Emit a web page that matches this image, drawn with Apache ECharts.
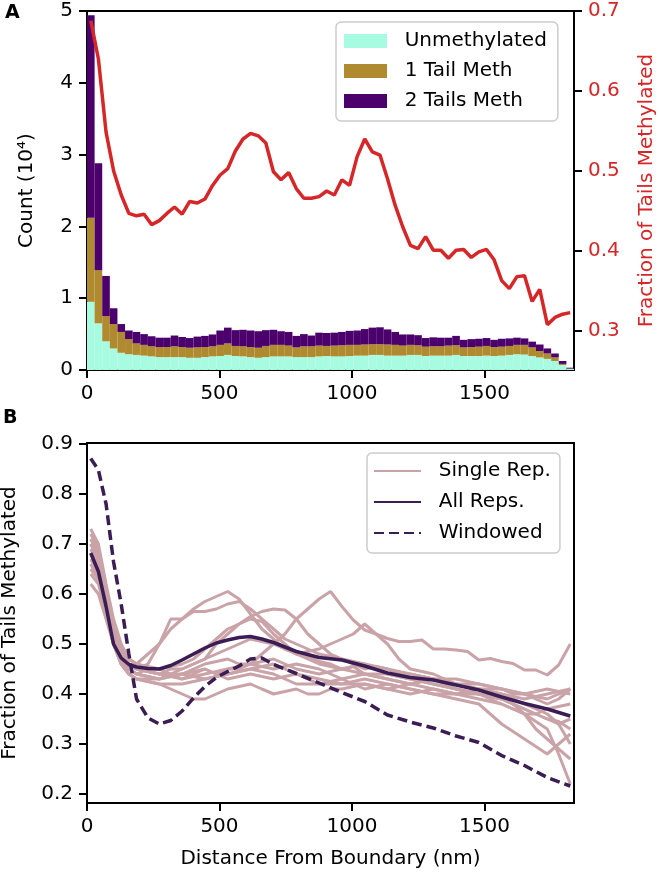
<!DOCTYPE html>
<html>
<head>
<meta charset="utf-8">
<script src="https://cdn.jsdelivr.net/npm/echarts@6/dist/echarts.min.js"></script>
<style>
html, body { margin: 0; padding: 0; background: #fff; }
#chart { width: 660px; height: 876px; }
</style>
</head>
<body>
<div id="chart"></div>
<script>
// histogram bins (nm, bin centres)
const binCenters = [14, 43, 72, 100, 129, 158, 187, 215, 244, 273, 302, 330, 359, 388, 416, 445,
	474, 503, 531, 560, 589, 617, 646, 675, 704, 732, 761, 790, 818, 847, 876, 904,
	933, 962, 991, 1020, 1048, 1077, 1106, 1134, 1163, 1192, 1221, 1249, 1278, 1307, 1335, 1364,
	1393, 1422, 1450, 1479, 1508, 1536, 1565, 1594, 1623, 1651, 1680, 1709, 1738, 1766, 1795, 1824];

// counts (10^4)
const unmethylated = [0.95, 0.65, 0.40, 0.30, 0.24, 0.22, 0.21, 0.20, 0.19, 0.18,
	0.18, 0.18, 0.18, 0.17, 0.17, 0.18, 0.19, 0.195, 0.21, 0.195,
	0.19, 0.18, 0.17, 0.18, 0.19, 0.19, 0.19, 0.18, 0.18, 0.18,
	0.19, 0.195, 0.19, 0.19, 0.195, 0.20, 0.20, 0.21, 0.21, 0.20,
	0.20, 0.20, 0.21, 0.21, 0.195, 0.20, 0.20, 0.20, 0.21, 0.195,
	0.195, 0.195, 0.20, 0.195, 0.20, 0.21, 0.22, 0.215, 0.195, 0.175,
	0.155, 0.125, 0.07, 0.014];
const oneTail = [1.17, 0.74, 0.35, 0.34, 0.29, 0.21, 0.16, 0.15, 0.14, 0.14,
	0.14, 0.15, 0.14, 0.14, 0.145, 0.14, 0.14, 0.155, 0.16, 0.14,
	0.14, 0.14, 0.14, 0.155, 0.16, 0.16, 0.15, 0.135, 0.15, 0.15,
	0.15, 0.14, 0.15, 0.155, 0.155, 0.15, 0.155, 0.15, 0.15, 0.155,
	0.15, 0.14, 0.14, 0.135, 0.13, 0.13, 0.13, 0.14, 0.135, 0.12,
	0.125, 0.13, 0.135, 0.125, 0.125, 0.125, 0.13, 0.135, 0.12, 0.09,
	0.075, 0.05, 0.015, 0.005];
const twoTails = [2.82, 1.49, 0.56, 0.22, 0.11, 0.12, 0.16, 0.15, 0.14, 0.13,
	0.13, 0.15, 0.14, 0.135, 0.15, 0.155, 0.165, 0.20, 0.22, 0.22,
	0.23, 0.23, 0.23, 0.22, 0.21, 0.19, 0.19, 0.16, 0.17, 0.15,
	0.18, 0.18, 0.18, 0.185, 0.195, 0.20, 0.215, 0.23, 0.235, 0.21,
	0.18, 0.155, 0.145, 0.14, 0.12, 0.125, 0.12, 0.11, 0.13, 0.105,
	0.11, 0.11, 0.11, 0.10, 0.11, 0.105, 0.10, 0.09, 0.08, 0.09,
	0.07, 0.055, 0.04, 0.013];
// fraction of tails methylated per bin (panel A, right axis)
const fracMethylated = [0.688, 0.640, 0.549, 0.500, 0.470, 0.447, 0.444, 0.446, 0.433, 0.438,
	0.447, 0.455, 0.446, 0.462, 0.460, 0.465, 0.482, 0.495, 0.503, 0.525,
	0.540, 0.547, 0.544, 0.535, 0.499, 0.489, 0.498, 0.478, 0.466, 0.466,
	0.468, 0.475, 0.470, 0.489, 0.482, 0.518, 0.540, 0.524, 0.520, 0.490,
	0.457, 0.430, 0.407, 0.403, 0.418, 0.401, 0.401, 0.391, 0.401, 0.402,
	0.392, 0.399, 0.402, 0.389, 0.363, 0.353, 0.368, 0.369, 0.337, 0.352,
	0.308, 0.317, 0.321, 0.323];

// panel B: single replicates
const repX = [14, 43, 72, 100, 129, 158, 187, 230, 273, 316, 359, 402, 445, 488, 531, 574,
	617, 660, 704, 747, 790, 833, 876, 919, 962, 1005, 1048, 1091, 1134, 1177, 1220, 1264,
	1307, 1350, 1393, 1436, 1479, 1522, 1565, 1608, 1651, 1694, 1737, 1780, 1824];
const singleReps = [
	[0.70, 0.67, 0.60, 0.53, 0.49, 0.47, 0.46, 0.48, 0.50, 0.53, 0.55, 0.57, 0.585, 0.595, 0.605, 0.59, 0.56, 0.53, 0.51, 0.49, 0.48, 0.475, 0.465, 0.46, 0.45, 0.455, 0.44, 0.435, 0.43, 0.425, 0.42, 0.425, 0.42, 0.415, 0.41, 0.405, 0.40, 0.395, 0.39, 0.38, 0.37, 0.36, 0.35, 0.345, 0.33],
	[0.68, 0.66, 0.58, 0.52, 0.48, 0.46, 0.45, 0.46, 0.50, 0.55, 0.55, 0.565, 0.565, 0.57, 0.58, 0.585, 0.57, 0.55, 0.53, 0.51, 0.50, 0.49, 0.48, 0.475, 0.47, 0.46, 0.45, 0.455, 0.45, 0.44, 0.44, 0.435, 0.43, 0.43, 0.43, 0.425, 0.42, 0.415, 0.41, 0.405, 0.40, 0.395, 0.39, 0.40, 0.41],
	[0.65, 0.63, 0.57, 0.51, 0.47, 0.45, 0.44, 0.435, 0.43, 0.44, 0.43, 0.44, 0.45, 0.44, 0.45, 0.45, 0.46, 0.48, 0.50, 0.52, 0.55, 0.57, 0.59, 0.605, 0.575, 0.548, 0.528, 0.52, 0.511, 0.505, 0.505, 0.508, 0.49, 0.49, 0.488, 0.485, 0.468, 0.471, 0.465, 0.461, 0.448, 0.448, 0.438, 0.458, 0.50],
	[0.72, 0.69, 0.61, 0.54, 0.49, 0.46, 0.45, 0.445, 0.44, 0.45, 0.45, 0.46, 0.47, 0.48, 0.49, 0.50, 0.51, 0.505, 0.50, 0.49, 0.48, 0.485, 0.49, 0.50, 0.51, 0.52, 0.54, 0.52, 0.50, 0.47, 0.45, 0.445, 0.44, 0.43, 0.42, 0.415, 0.41, 0.405, 0.40, 0.39, 0.38, 0.37, 0.36, 0.34, 0.30],
	[0.71, 0.68, 0.60, 0.53, 0.48, 0.46, 0.45, 0.445, 0.44, 0.44, 0.45, 0.46, 0.47, 0.50, 0.52, 0.54, 0.555, 0.565, 0.57, 0.568, 0.55, 0.52, 0.50, 0.48, 0.47, 0.465, 0.46, 0.45, 0.44, 0.435, 0.43, 0.435, 0.43, 0.425, 0.42, 0.415, 0.41, 0.41, 0.41, 0.40, 0.40, 0.39, 0.38, 0.39, 0.41],
	[0.73, 0.70, 0.62, 0.55, 0.50, 0.47, 0.46, 0.455, 0.45, 0.455, 0.46, 0.47, 0.49, 0.51, 0.53, 0.54, 0.55, 0.545, 0.52, 0.50, 0.48, 0.47, 0.46, 0.455, 0.45, 0.445, 0.44, 0.44, 0.44, 0.435, 0.43, 0.425, 0.42, 0.415, 0.41, 0.405, 0.40, 0.395, 0.39, 0.38, 0.36, 0.33, 0.31, 0.29, 0.27],
	[0.62, 0.60, 0.55, 0.50, 0.46, 0.44, 0.43, 0.425, 0.42, 0.41, 0.40, 0.39, 0.39, 0.40, 0.41, 0.415, 0.42, 0.41, 0.40, 0.405, 0.41, 0.40, 0.40, 0.41, 0.41, 0.415, 0.42, 0.415, 0.41, 0.405, 0.40, 0.405, 0.41, 0.405, 0.40, 0.395, 0.39, 0.385, 0.38, 0.37, 0.36, 0.345, 0.33, 0.28, 0.22],
	[0.69, 0.66, 0.59, 0.52, 0.47, 0.45, 0.44, 0.45, 0.45, 0.44, 0.44, 0.45, 0.46, 0.465, 0.47, 0.46, 0.46, 0.465, 0.47, 0.46, 0.45, 0.445, 0.44, 0.445, 0.45, 0.455, 0.46, 0.455, 0.45, 0.445, 0.44, 0.435, 0.43, 0.425, 0.42, 0.42, 0.42, 0.415, 0.41, 0.405, 0.40, 0.405, 0.41, 0.405, 0.40],
	[0.67, 0.64, 0.58, 0.52, 0.48, 0.46, 0.45, 0.445, 0.44, 0.435, 0.43, 0.435, 0.44, 0.445, 0.45, 0.455, 0.46, 0.455, 0.45, 0.455, 0.46, 0.455, 0.45, 0.44, 0.43, 0.435, 0.44, 0.435, 0.43, 0.425, 0.42, 0.425, 0.43, 0.42, 0.41, 0.405, 0.40, 0.395, 0.39, 0.38, 0.37, 0.36, 0.35, 0.34, 0.35],
	[0.70, 0.67, 0.59, 0.51, 0.46, 0.44, 0.43, 0.425, 0.42, 0.42, 0.42, 0.425, 0.43, 0.435, 0.44, 0.445, 0.45, 0.445, 0.44, 0.43, 0.42, 0.42, 0.42, 0.425, 0.43, 0.42, 0.41, 0.415, 0.42, 0.415, 0.41, 0.405, 0.40, 0.395, 0.39, 0.385, 0.38, 0.36, 0.34, 0.325, 0.31, 0.295, 0.28, 0.30, 0.32],
	[0.66, 0.63, 0.56, 0.50, 0.46, 0.44, 0.43, 0.43, 0.43, 0.435, 0.44, 0.435, 0.43, 0.435, 0.44, 0.445, 0.45, 0.455, 0.46, 0.45, 0.44, 0.435, 0.43, 0.425, 0.42, 0.42, 0.42, 0.415, 0.41, 0.415, 0.42, 0.415, 0.41, 0.405, 0.40, 0.40, 0.40, 0.39, 0.38, 0.37, 0.36, 0.36, 0.37, 0.375, 0.38],
	[0.64, 0.62, 0.56, 0.50, 0.46, 0.45, 0.44, 0.435, 0.43, 0.435, 0.44, 0.445, 0.45, 0.44, 0.43, 0.435, 0.44, 0.435, 0.43, 0.435, 0.44, 0.43, 0.42, 0.42, 0.42, 0.425, 0.43, 0.425, 0.42, 0.415, 0.41, 0.405, 0.40, 0.40, 0.40, 0.405, 0.41, 0.405, 0.40, 0.395, 0.39, 0.395, 0.40, 0.405, 0.41]
];

// panel B: pooled and windowed curves
const smoothX = [14, 43, 72, 100, 129, 158, 187, 230, 273, 316, 359, 402, 445, 488, 531, 574,
	617, 660, 704, 790, 876, 962, 1048, 1134, 1220, 1307, 1393, 1479, 1565, 1651, 1737, 1824];
const allReps = [0.682, 0.645, 0.575, 0.500, 0.472, 0.459, 0.454, 0.451, 0.450, 0.457, 0.468, 0.480, 0.492, 0.502, 0.508, 0.513,
	0.515, 0.510, 0.503, 0.485, 0.473, 0.468, 0.456, 0.442, 0.433, 0.428, 0.418, 0.408, 0.394, 0.381, 0.370, 0.356];
const windowed = [0.871, 0.848, 0.780, 0.665, 0.580, 0.480, 0.390, 0.352, 0.340, 0.347, 0.366, 0.392, 0.415, 0.433, 0.445, 0.456,
	0.470, 0.472, 0.459, 0.441, 0.422, 0.403, 0.385, 0.358, 0.344, 0.332, 0.316, 0.303, 0.277, 0.257, 0.233, 0.216];

// tick labels
const distTicks = [0, 500, 1000, 1500];
const countTicks = [0, 1, 2, 3, 4, 5];
const fracTicksA = [0.3, 0.4, 0.5, 0.6, 0.7];
const fracTicksB = [0.2, 0.3, 0.4, 0.5, 0.6, 0.7, 0.8, 0.9];

const font = 'DejaVu Sans';
const red = '#d62728';
const pink = '#c9a3a7';
const darkPurple = '#3b1d55';

var myChart = echarts.init(document.getElementById('chart'));

function axisCommon(ticks, labelColor, fmt) {
	return {
		axisLine: { show: true, onZero: false, lineStyle: { color: '#000', width: 2 } },
		axisTick: { show: true, customValues: ticks, length: 8, lineStyle: { color: '#000', width: 2 } },
		axisLabel: {
			customValues: ticks, fontSize: 20, fontFamily: font, color: labelColor || '#000', margin: 14,
			formatter: fmt || ((v) => String(v))
		},
		splitLine: { show: false },
		nameTextStyle: { fontSize: 20, fontFamily: font, color: labelColor || '#000' },
		nameMoveOverlap: false
	};
}
const oneDecimal = (v) => v.toFixed(1);

var option = {
	animation: false,
	backgroundColor: '#fff',
	textStyle: { fontFamily: font },
	grid: [
		{ left: 87, top: 11, width: 487, height: 359, show: true, borderColor: '#000', borderWidth: 2, outerBoundsMode: 'none' },
		{ left: 87, top: 443, width: 487, height: 360, show: true, borderColor: '#000', borderWidth: 2, outerBoundsMode: 'none' }
	],
	legend: [
		{
			data: ['Unmethylated', '1 Tail Meth', '2 Tails Meth'],
			orient: 'vertical', left: 336, top: 22,
			icon: 'rect', itemWidth: 43, itemHeight: 14, itemGap: 10,
			padding: [9, 11, 10, 8],
			formatter: (name) => '  ' + name,
			textStyle: { fontSize: 20, fontFamily: font, color: '#000', lineHeight: 20 },
			backgroundColor: 'rgba(255,255,255,0.85)', borderColor: '#ccc', borderWidth: 1.5, borderRadius: 5
		},
		{
			data: ['Single Rep.', 'All Reps.', 'Windowed'],
			orient: 'vertical', left: 367, top: 453,
			itemWidth: 47, itemHeight: 14, itemGap: 11,
			padding: [8, 9, 10, 6],
			itemStyle: { opacity: 0 },
			formatter: (name) => '  ' + name,
			textStyle: { fontSize: 20, fontFamily: font, color: '#000', lineHeight: 20 },
			backgroundColor: 'rgba(255,255,255,0.85)', borderColor: '#ccc', borderWidth: 1.5, borderRadius: 5
		}
	],
	xAxis: [
		Object.assign({ type: 'value', gridIndex: 0, min: 0, max: 1838 }, axisCommon(distTicks)),
		{ type: 'category', gridIndex: 0, data: binCenters, show: false },
		Object.assign({
			type: 'value', gridIndex: 1, min: 0, max: 1838,
			name: 'Distance From Boundary (nm)', nameLocation: 'middle', nameGap: 46
		}, axisCommon(distTicks))
	],
	yAxis: [
		Object.assign({
			type: 'value', gridIndex: 0, min: 0, max: 5, position: 'left',
			name: 'Count (10\u2074)', nameLocation: 'middle', nameRotate: 90, nameGap: 50
		}, axisCommon(countTicks)),
		Object.assign({
			type: 'value', gridIndex: 0, min: 0.2513, max: 0.7, position: 'right',
			name: 'Fraction of Tails Methylated', nameLocation: 'middle', nameRotate: 90, nameGap: 63
		}, axisCommon(fracTicksA, red, oneDecimal)),
		Object.assign({
			type: 'value', gridIndex: 1, min: 0.182, max: 0.902, position: 'left',
			name: 'Fraction of Tails Methylated', nameLocation: 'middle', nameRotate: 90, nameGap: 67
		}, axisCommon(fracTicksB, null, oneDecimal))
	],
	graphic: [
		{ type: 'text', left: 5, top: 4, style: { text: 'A', fontSize: 19, fontWeight: 'bold', fontFamily: font, fill: '#000' } },
		{ type: 'text', left: 3, top: 409, style: { text: 'B', fontSize: 19, fontWeight: 'bold', fontFamily: font, fill: '#000' } }
	],
	series: []
};

// panel A histogram
const barLayers = [
	['Unmethylated', unmethylated, '#a6fbe1'],
	['1 Tail Meth', oneTail, '#b08a2e'],
	['2 Tails Meth', twoTails, '#4b006c']
];
for (const [name, values, color] of barLayers) {
	option.series.push({
		name: name,
		type: 'bar',
		xAxisIndex: 1,
		yAxisIndex: 0,
		stack: 'hist',
		barWidth: '100%',
		barCategoryGap: '0%',
		data: values,
		itemStyle: { color: color }
	});
}
option.series.push({
	name: 'Fraction Methylated',
	type: 'line',
	xAxisIndex: 1,
	yAxisIndex: 1,
	data: fracMethylated,
	symbol: 'none',
	lineStyle: { color: red, width: 3.5 },
	itemStyle: { color: red },
	z: 5
});

// panel B lines
for (const rep of singleReps) {
	option.series.push({
		name: 'Single Rep.',
		type: 'line',
		xAxisIndex: 2,
		yAxisIndex: 2,
		data: repX.map((x, i) => [x, rep[i]]),
		symbol: 'none',
		lineStyle: { color: pink, width: 3 },
		itemStyle: { color: pink }
	});
}
option.series.push({
	name: 'All Reps.',
	type: 'line',
	xAxisIndex: 2,
	yAxisIndex: 2,
	data: smoothX.map((x, i) => [x, allReps[i]]),
	symbol: 'none',
	lineStyle: { color: darkPurple, width: 3.5 },
	itemStyle: { color: darkPurple },
	z: 4
});
option.series.push({
	name: 'Windowed',
	type: 'line',
	xAxisIndex: 2,
	yAxisIndex: 2,
	data: smoothX.map((x, i) => [x, windowed[i]]),
	symbol: 'none',
	lineStyle: { color: darkPurple, width: 3.5, type: [10, 5] },
	itemStyle: { color: darkPurple },
	z: 4
});

myChart.setOption(option);
</script>
</body>
</html>
